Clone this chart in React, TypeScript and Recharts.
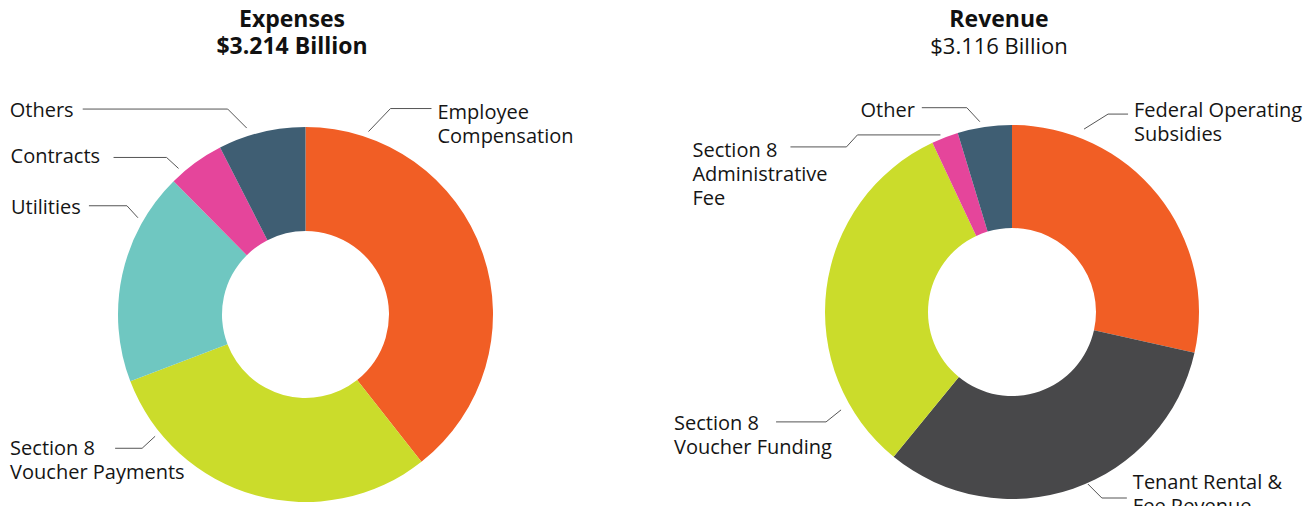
import { PieChart, Pie, Cell } from "recharts"

// values in $ millions
const expenseCategories = ["Employee Compensation", "Section 8 Voucher Payments", "Utilities", "Contracts", "Others"]
const expenseValues = [1266, 958, 591, 157, 242]
const expenseColors = ["#F15E25", "#CBDC2B", "#6FC7C1", "#E5459B", "#3F5E73"]

const revenueCategories = [
  "Federal Operating Subsidies",
  "Tenant Rental & Fee Revenue",
  "Section 8 Voucher Funding",
  "Section 8 Administrative Fee",
  "Other",
]
const revenueValues = [888, 1010, 1000, 72, 146]
const revenueColors = ["#F15E25", "#48484A", "#CBDC2B", "#E5459B", "#3F5E73"]

const expenseLabelLines = [["Employee", "Compensation"], ["Section 8", "Voucher Payments"], ["Utilities"], ["Contracts"], ["Others"]]
const revenueLabelLines = [
  ["Federal Operating", "Subsidies"],
  ["Tenant Rental &", "Fee Revenue"],
  ["Section 8", "Voucher Funding"],
  ["Section 8", "Administrative", "Fee"],
  ["Other"],
]

const expenseData = expenseCategories.map((name, i) => ({ name, value: expenseValues[i] }))
const revenueData = revenueCategories.map((name, i) => ({ name, value: revenueValues[i] }))

type Leader = {
  angle: number // degrees clockwise from 12 o'clock
  gap: number
  pts: number[][]
  text: number[]
  anchor: "start" | "end"
}

const expenseLeaders: Leader[] = [
  { angle: 19, gap: 6, pts: [[22, -23], [63, -23]], text: [69, -20], anchor: "start" },
  { angle: 231, gap: 6, pts: [[-13, 12], [-40, 12]], text: [-145, 12], anchor: "start" },
  { angle: 300, gap: 6, pts: [[-11, -12], [-49, -12]], text: [-127, -11], anchor: "start" },
  { angle: 319, gap: 6, pts: [[-12, -11], [-65, -11]], text: [-168, -12], anchor: "start" },
  { angle: 342.5, gap: 8, pts: [[-19, -19], [-164, -19]], text: [-237, -18], anchor: "start" },
]

const revenueLeaders: Leader[] = [
  { angle: 21.5, gap: 9.6, pts: [[24, -15], [44, -15]], text: [50, -19], anchor: "start" },
  { angle: 156.2, gap: 1, pts: [[14, 14], [39, 14]], text: [45, -2], anchor: "start" },
  { angle: 240.2, gap: 10, pts: [[-15, 12], [-65, 12]], text: [-167, 13], anchor: "start" },
  { angle: 338, gap: 4, pts: [[-83, 0], [-94, 12], [-150, 12]], text: [-248, 15], anchor: "start" },
  { angle: 350.4, gap: 6, pts: [[-13, -14], [-58, -14]], text: [-65, -12], anchor: "end" },
]

const FONT = "'Open Sans', sans-serif"

function makeLabel(leaders: Leader[], lines: string[][]) {
  return (props: any) => {
    const { cx, cy, outerRadius, index } = props
    const l = leaders[index]
    const rad = (l.angle * Math.PI) / 180
    const r = outerRadius + l.gap
    const ax = cx + r * Math.sin(rad)
    const ay = cy - r * Math.cos(rad)
    const points = [[ax, ay], ...l.pts.map(([dx, dy]) => [ax + dx, ay + dy])]
    const tx = ax + l.text[0]
    const ty = ay + l.text[1] + 7
    return (
      <g key={`lbl-${index}`}>
        <polyline points={points.map((p) => p.join(",")).join(" ")} fill="none" stroke="#555" strokeWidth={1} />
        <text x={tx} y={ty} textAnchor={l.anchor} fontSize={20} fontFamily={FONT} fill="#151515">
          {lines[index].map((line, i) => (
            <tspan key={i} x={tx} dy={i === 0 ? 0 : 24}>
              {line}
            </tspan>
          ))}
        </text>
      </g>
    )
  }
}

const titleStyle: React.CSSProperties = {
  position: "absolute",
  width: 300,
  textAlign: "center",
  fontFamily: FONT,
  fontSize: 22,
  lineHeight: "27px",
  color: "#111",
}

export default function App() {
  return (
    <div style={{ position: "absolute", left: 0, top: 0, width: 1315, height: 506, background: "#fff", overflow: "hidden" }}>
      <PieChart width={1315} height={506} margin={{ top: 0, right: 0, bottom: 0, left: 0 }}>
        <Pie
          data={expenseData}
          dataKey="value"
          nameKey="name"
          cx={305.5}
          cy={314.5}
          innerRadius={83.5}
          outerRadius={187.5}
          startAngle={90}
          endAngle={-270}
          stroke="none"
          label={makeLabel(expenseLeaders, expenseLabelLines)}
          labelLine={false}
          isAnimationActive={false}
        >
          {expenseData.map((d, i) => (
            <Cell key={d.name} fill={expenseColors[i]} />
          ))}
        </Pie>
        <Pie
          data={revenueData}
          dataKey="value"
          nameKey="name"
          cx={1012}
          cy={312}
          innerRadius={84}
          outerRadius={187}
          startAngle={90}
          endAngle={-270}
          stroke="none"
          label={makeLabel(revenueLeaders, revenueLabelLines)}
          labelLine={false}
          isAnimationActive={false}
        >
          {revenueData.map((d, i) => (
            <Cell key={d.name} fill={revenueColors[i]} />
          ))}
        </Pie>
      </PieChart>
      <div style={{ ...titleStyle, left: 292 - 150, top: 5, fontWeight: 700, fontSize: 23 }}>
        <div>Expenses</div>
        <div>$3.214 Billion</div>
      </div>
      <div style={{ ...titleStyle, left: 999 - 150, top: 5 }}>
        <div style={{ fontWeight: 700, fontSize: 23 }}>Revenue</div>
        <div>$3.116 Billion</div>
      </div>
    </div>
  )
}
